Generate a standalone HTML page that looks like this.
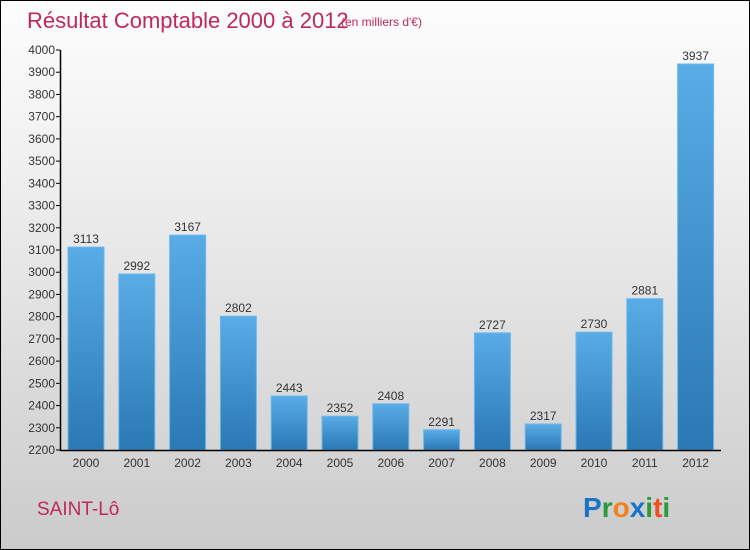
<!DOCTYPE html>
<html><head><meta charset="utf-8"><style>
body{margin:0}
#c{position:relative;width:748px;height:548px;border:1px solid #000;background:linear-gradient(#fdfdfd,#f0f0f0 30%,#d8d8d8 75%,#cbcbcb);font-family:"Liberation Sans",sans-serif;overflow:hidden}
</style></head><body>
<div id="c">
<svg width="748" height="548">
<defs><linearGradient id="bg" x1="0" y1="0" x2="0" y2="1"><stop offset="0" stop-color="#59ace6"/><stop offset="1" stop-color="#2a78b4"/></linearGradient></defs>
<text x="26" y="27" font-size="22" fill="#c0285a">Résultat Comptable 2000 à 2012</text>
<text x="340" y="25" font-size="12" fill="#c0285a">(en milliers d'€)</text>
<g id="g"></g>
<text x="36" y="514" font-size="19" fill="#c0285a">SAINT-Lô</text>
<text x="582" y="516" font-size="28" font-weight="bold"><tspan fill="#1a73c8">P</tspan><tspan fill="#2a9a3a">r</tspan><tspan fill="#f08020">o</tspan><tspan fill="#1a73c8">x</tspan><tspan fill="#2a9a3a">i</tspan><tspan fill="#f05020">t</tspan><tspan fill="#2a9a3a">i</tspan></text>
</svg></div>
<script>
const years=["2000","2001","2002","2003","2004","2005","2006","2007","2008","2009","2010","2011","2012"];
const values=[3113,2992,3167,2802,2443,2352,2408,2291,2727,2317,2730,2881,3937];
const ticks=[2200,2300,2400,2500,2600,2700,2800,2900,3000,3100,3200,3300,3400,3500,3600,3700,3800,3900,4000];
const NS="http://www.w3.org/2000/svg",g=document.getElementById('g');
const y=v=>449-(v-2200)/1800*400, x=i=>85+i*50.8;
function el(t,a,txt){const e=document.createElementNS(NS,t);for(const k in a)e.setAttribute(k,a[k]);if(txt!=null)e.textContent=txt;g.appendChild(e);return e;}
ticks.forEach(t=>{
const l=el('line',{x1:55,x2:59,y1:y(t),y2:y(t),stroke:'#000'});


const s=el('text',{x:54,y:y(t)+4,'font-size':12,'text-anchor':'end',fill:'#333'},t);


});
values.forEach((v,i)=>{
const r=el('rect',{x:x(i)-18,y:y(v),width:36,height:449-y(v),fill:'url(#bg)',stroke:'#6bb8ee','stroke-width':1});


const t=el('text',{x:x(i),y:y(v)-4,'font-size':12,'text-anchor':'middle',fill:'#333'},v);


const yl=el('text',{x:x(i),y:466,'font-size':12,'text-anchor':'middle',fill:'#333'},years[i]);


});
const ya=el('line',{x1:59.5,x2:59.5,y1:49,y2:450,stroke:'#000','stroke-width':1.5});


const xa=el('line',{x1:59,x2:720,y1:449.5,y2:449.5,stroke:'#000','stroke-width':1.5});


</script>
</body></html>
